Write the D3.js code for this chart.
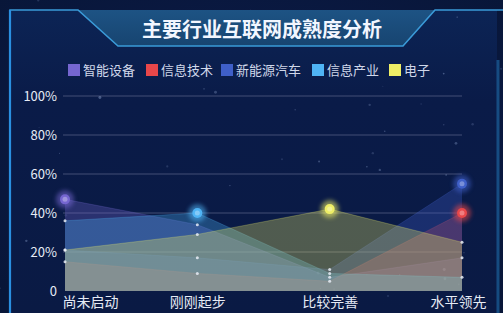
<!DOCTYPE html>
<html><head><meta charset="utf-8">
<script src="https://cdn.jsdelivr.net/npm/d3@7"></script>
<style>html,body{margin:0;padding:0;background:#0a1840;overflow:hidden}</style>
</head><body><svg id="c" width="503" height="313"></svg>
<script>
const title = "主要行业互联网成熟度分析";
const categories = ["尚未启动", "刚刚起步", "比较完善", "水平领先"];
const seriesNames = ["智能设备", "信息技术", "新能源汽车", "信息产业", "电子"];
const seriesColors = ["#7566d0", "#e8474a", "#3f5fc8", "#4fb4f5", "#eeee66"];
const s智能设备 = [47, 34, 7, 17];
const s信息技术 = [15, 9, 5, 40];
const s新能源汽车 = [21, 17, 11, 55];
const s信息产业 = [36, 40, 9, 7];
const s电子 = [21, 29, 42, 25];
const yTicks = [0, 20, 40, 60, 80, 100];

const seriesData = [s智能设备, s信息技术, s新能源汽车, s信息产业, s电子];
const svg = d3.select("#c");
const W = 503, H = 313;

const defs = svg.append("defs");
const bg = defs.append("radialGradient").attr("id","bg").attr("cx","50%").attr("cy","45%").attr("r","70%");
bg.append("stop").attr("offset","0%").attr("stop-color","#0c1c4c");
bg.append("stop").attr("offset","100%").attr("stop-color","#081638");
svg.append("rect").attr("width",W).attr("height",H).attr("fill","url(#bg)");

const pg = defs.append("linearGradient").attr("id","pg").attr("x1",0).attr("x2",0).attr("y1",0).attr("y2",1);
pg.append("stop").attr("offset","0%").attr("stop-color","#0c2455");
pg.append("stop").attr("offset","30%").attr("stop-color","#0a1b48");
pg.append("stop").attr("offset","100%").attr("stop-color","#0a1a44");
svg.append("rect").attr("x",10).attr("y",10).attr("width",487).attr("height",303).attr("fill","url(#pg)");

// stars (decorative, deterministic)
let seed = 7;
function rnd(){ seed = (seed*16807) % 2147483647; return seed/2147483647; }
for (let i=0;i<45;i++){
  svg.append("circle").attr("cx",rnd()*W).attr("cy",rnd()*H).attr("r",0.5+rnd()*1.0)
    .attr("fill","#9fb4e0").attr("opacity",0.12+rnd()*0.3);
}

const hg = defs.append("linearGradient").attr("id","hg").attr("x1",0).attr("x2",0).attr("y1",0).attr("y2",1);
hg.append("stop").attr("offset","0%").attr("stop-color","#1d5384");
hg.append("stop").attr("offset","100%").attr("stop-color","#174470");
svg.append("path").attr("d","M78,10 L118,46 L403,46 L435,10 Z").attr("fill","url(#hg)");
svg.append("path").attr("d","M10,313 L10,10 L78,10 L118,46 L403,46 L435,10 L503,10")
  .attr("fill","none").attr("stroke","#3a9ad8").attr("stroke-width",1.6);
svg.append("line").attr("x1",10).attr("x2",10).attr("y1",10).attr("y2",313).attr("stroke","#2a8fe0").attr("stroke-width",2.2);
svg.append("line").attr("x1",498).attr("x2",498).attr("y1",60).attr("y2",313).attr("stroke","#1f6fb0").attr("stroke-width",3).attr("opacity",0.6);

svg.append("text").attr("x",262).attr("y",37).attr("text-anchor","middle")
  .attr("font-family","Noto Sans CJK SC").attr("font-weight","bold").attr("font-size",20)
  .attr("fill","#f2f6ff").text(title);

const legendX = [68, 146, 221, 312, 389];
seriesNames.forEach((n,i)=>{
  svg.append("rect").attr("x",legendX[i]).attr("y",64).attr("width",12).attr("height",12).attr("fill",seriesColors[i]);
  svg.append("text").attr("x",legendX[i]+15).attr("y",75).attr("font-family","Noto Sans CJK SC")
    .attr("font-size",13).attr("fill","#d0d8ea").text(n);
});

const x = d3.scalePoint().domain(categories).range([65, 462]);
const y = d3.scaleLinear().domain([0,100]).range([291, 96]);

svg.append("g").selectAll("line").data(yTicks.filter(t=>t>0)).join("line")
  .attr("x1",63).attr("x2",462).attr("y1",d=>y(d)).attr("y2",d=>y(d))
  .attr("stroke","#8a90b0").attr("stroke-opacity",0.45).attr("stroke-width",1);

const yAxis = d3.axisLeft(y).tickValues(yTicks).tickFormat(d=>d===0?"0":d+"%").tickSize(0).tickPadding(6);
const ga = svg.append("g").attr("transform","translate(63,0)").call(yAxis);
ga.select(".domain").remove();
ga.selectAll("text").attr("font-family","Noto Sans CJK SC").attr("font-size",13).attr("fill","#e6ebf5");

const xAxis = d3.axisBottom(x).tickSize(0).tickPadding(6);
const gx = svg.append("g").attr("transform","translate(0,291)").call(xAxis);
gx.select(".domain").remove();
gx.selectAll("text").attr("font-family","Noto Sans CJK SC").attr("font-size",14).attr("fill","#e6ebf5");
gx.selectAll(".tick").filter((d,i)=>i===0).select("text").attr("text-anchor","start").attr("x",-3);
gx.selectAll(".tick").filter((d,i)=>i===categories.length-1).select("text").attr("dx",-4);

const area = d3.area().x((d,i)=>x(categories[i])).y0(y(0)).y1(d=>y(d));
const line = d3.line().x((d,i)=>x(categories[i])).y(d=>y(d));
seriesData.forEach((s,i)=>{
  svg.append("path").attr("d",area(s)).attr("fill",seriesColors[i]).attr("fill-opacity",0.31);
  svg.append("path").attr("d",line(s)).attr("fill","none").attr("stroke",seriesColors[i]).attr("stroke-opacity",0.25).attr("stroke-width",1);
});

seriesData.forEach((s,i)=>{
  const m = d3.maxIndex(s);
  s.forEach((v,j)=>{
    if (j===m) return;
    svg.append("circle").attr("cx",x(categories[j])).attr("cy",y(v)).attr("r",1.5).attr("fill","#e8ecf4").attr("opacity",0.85);
  });
});

const glow = defs.append("filter").attr("id","glow").attr("x","-100%").attr("y","-100%").attr("width","300%").attr("height","300%");
glow.append("feGaussianBlur").attr("stdDeviation",2);
seriesData.forEach((s,i)=>{
  const m = d3.maxIndex(s);
  const cx = x(categories[m]), cy = y(s[m]);
  svg.append("circle").attr("cx",cx).attr("cy",cy).attr("r",9).attr("fill",seriesColors[i]).attr("opacity",0.55).attr("filter","url(#glow)");
  svg.append("circle").attr("cx",cx).attr("cy",cy).attr("r",5).attr("fill",seriesColors[i]);
  svg.append("circle").attr("cx",cx).attr("cy",cy).attr("r",2.5).attr("fill","#ffffff").attr("opacity",0.3);
});
</script></body></html>
